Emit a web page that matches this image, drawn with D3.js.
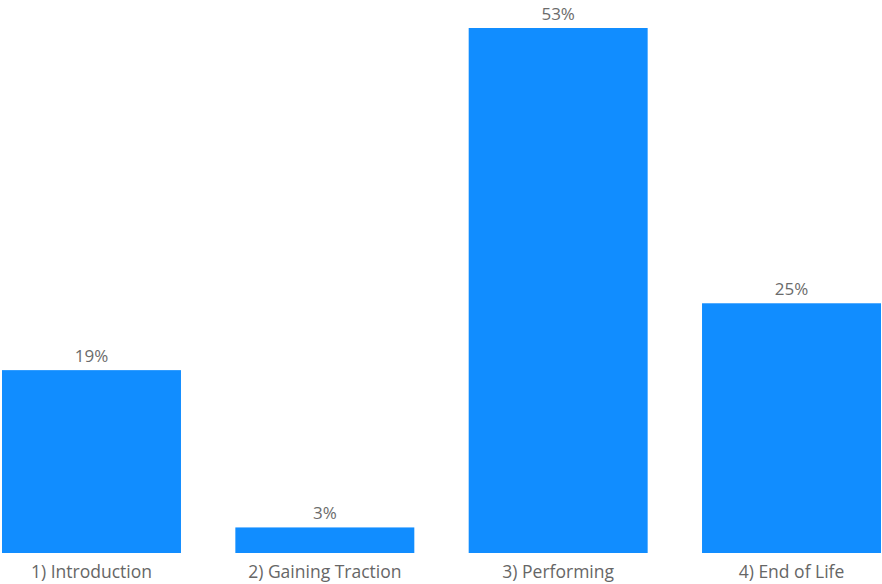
<!DOCTYPE html>
<html>
<head>
<meta charset="utf-8">
<script src="https://cdn.jsdelivr.net/npm/d3@7"></script>
<style>
  html, body { margin: 0; padding: 0; background: #fff; }
  svg { display: block; }
  text { font-family: "Open Sans", "Noto Sans", sans-serif; }
</style>
</head>
<body>
<svg id="chart" width="882" height="584"></svg>
<script>
const categories = ["1) Introduction", "2) Gaining Traction", "3) Performing", "4) End of Life"];
const values = [18.6, 2.6, 53.4, 25.4];
const valueLabels = ["19%", "3%", "53%", "25%"];

(function () {
const svg = d3.select("#chart");
const baseline = 553, plotTop = 28;

const x = d3.scaleBand()
  .domain(categories)
  .range([2, 881])
  .paddingInner(0.233)
  .paddingOuter(0);

const y = d3.scaleLinear()
  .domain([0, d3.max(values)])
  .range([baseline, plotTop]);

const data = categories.map((c, i) => ({ c, v: values[i], label: valueLabels[i] }));

svg.append("g").selectAll("rect")
  .data(data)
  .join("rect")
  .attr("x", d => x(d.c))
  .attr("y", d => y(d.v))
  .attr("width", x.bandwidth())
  .attr("height", d => y(0) - y(d.v))
  .attr("fill", "#118DFF");

svg.append("g").selectAll("text")
  .data(data)
  .join("text")
  .attr("x", d => x(d.c) + x.bandwidth() / 2)
  .attr("y", d => y(d.v) - 8)
  .attr("text-anchor", "middle")
  .attr("font-size", "17px")
  .attr("fill", "#6b6b6b")
  .text(d => d.label);

const xAxis = d3.axisBottom(x).tickSize(0).tickPadding(0);
const gx = svg.append("g")
  .attr("transform", `translate(0,${baseline})`)
  .call(xAxis);
gx.select(".domain").remove();
gx.selectAll("text")
  .attr("dy", null)
  .attr("y", 25)
  .attr("font-size", "17.5px")
  .attr("font-family", "'Open Sans', 'Noto Sans', sans-serif")
  .attr("fill", "#666666");
})();
</script>
</body>
</html>
